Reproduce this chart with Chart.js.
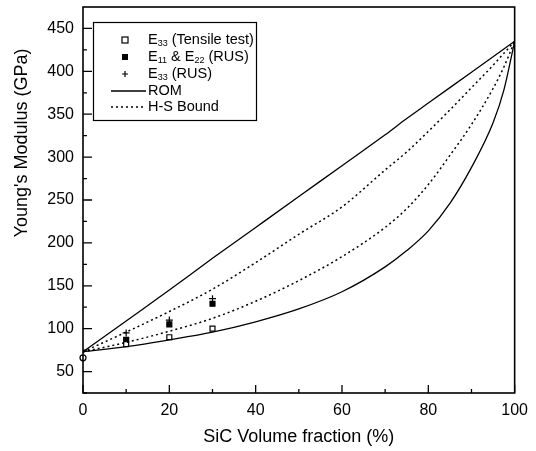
<!DOCTYPE html>
<html>
<head>
<meta charset="utf-8">
<title>Young's Modulus vs SiC Volume fraction</title>
<script src="https://cdn.jsdelivr.net/npm/chart.js@4.4.0/dist/chart.umd.min.js"></script>
<style>
    html, body { margin: 0; padding: 0; background: #ffffff; }
    #wrap { position: relative; width: 536px; height: 451px; }
</style>
</head>
<body>
<div id="wrap"><canvas id="modulusChart" width="536" height="451"></canvas></div>
<script>
// Bounds
const volFraction = [0, 10, 20, 30, 40, 50, 60, 70, 75, 80, 85, 90, 95, 97.5, 100];
const romUpper = [73, 109, 145, 182, 218, 254, 290, 326, 345, 363, 381, 399, 417, 426, 435];
const hsUpper  = [73, 96, 120, 146, 177, 210, 242, 285, 306, 330, 355, 381, 407, 421, 435];
const hsLower  = [73, 84, 97, 112, 132, 156, 184, 218, 240, 268, 302, 338, 380, 405, 435];
const romLower = [73, 79, 87, 96, 108, 123, 143, 172, 191, 214, 246, 288, 340, 378, 435];

// Measurements
const testFraction = [10, 20, 30];
const e33Tensile = [82, 90, 100];
const e11e22Rus = [87, 105, 129];
const e33Rus = [95, 110, 135];

// Matrix point
const matrixFraction = [0];
const matrixModulus = [66];

// Axes
const xTicks = [0, 20, 40, 60, 80, 100];
const yTicks = [50, 100, 150, 200, 250, 300, 350, 400, 450];

const FONT = '"Liberation Sans", Arial, sans-serif';

function toPoints(xs, ys) {
    return xs.map((x, i) => ({ x: x, y: ys[i] }));
}

// Legend entries (with subscripts)
const legendItems = [
    { kind: 'openSquare', parts: [['E'], ['33', true], [' (Tensile test)']] },
    { kind: 'filledSquare', parts: [['E'], ['11', true], [' & E'], ['22', true], [' (RUS)']] },
    { kind: 'plus', parts: [['E'], ['33', true], [' (RUS)']] },
    { kind: 'solid', parts: [['ROM']] },
    { kind: 'dotted', parts: [['H-S Bound']] }
];

function drawMarker(ctx, kind, x, y) {
    ctx.save();
    ctx.strokeStyle = '#000';
    ctx.fillStyle = '#000';
    ctx.lineWidth = 1.2;
    if (kind === 'openSquare') {
        ctx.fillStyle = '#fff';
        ctx.fillRect(x - 3, y - 3, 6, 6);
        ctx.strokeRect(x - 3, y - 3, 6, 6);
    } else if (kind === 'filledSquare') {
        ctx.fillRect(x - 3, y - 3, 6, 6);
    } else if (kind === 'plus') {
        ctx.beginPath();
        ctx.moveTo(x - 3, y); ctx.lineTo(x + 3, y);
        ctx.moveTo(x, y - 3); ctx.lineTo(x, y + 3);
        ctx.stroke();
    } else {
        ctx.lineWidth = kind === 'solid' ? 1.3 : 1.5;
        if (kind === 'dotted') ctx.setLineDash([2, 3]);
        ctx.beginPath();
        ctx.moveTo(x - 14, y); ctx.lineTo(x + 21, y);
        ctx.stroke();
    }
    ctx.restore();
}

function drawRichText(ctx, parts, x, y) {
    let cx = x;
    parts.forEach(p => {
        const sub = p[1] === true;
        ctx.font = (sub ? '9px ' : '14.5px ') + FONT;
        ctx.fillText(p[0], cx, sub ? y + 4 : y);
        cx += ctx.measureText(p[0]).width;
    });
}

// Frame, inward ticks, titles and legend
const decorPlugin = {
    id: 'decor',
    afterDraw(chart) {
        const ctx = chart.ctx;
        const area = chart.chartArea;
        const xs = chart.scales.x;
        const ys = chart.scales.y;

        ctx.save();
        ctx.strokeStyle = '#000';
        ctx.fillStyle = '#000';

        // frame
        ctx.lineWidth = 1.6;
        ctx.strokeRect(area.left, area.top, area.right - area.left, area.bottom - area.top);

        // x ticks (major + minor)
        ctx.lineWidth = 1.3;
        ctx.beginPath();
        xTicks.forEach((v, i) => {
            const px = xs.getPixelForValue(v);
            ctx.moveTo(px, area.bottom); ctx.lineTo(px, area.bottom - 8);
            if (i < xTicks.length - 1) {
                const mx = xs.getPixelForValue((v + xTicks[i + 1]) / 2);
                ctx.moveTo(mx, area.bottom); ctx.lineTo(mx, area.bottom - 4);
            }
        });
        // y ticks (major + minor)
        yTicks.forEach((v, i) => {
            const py = ys.getPixelForValue(v);
            ctx.moveTo(area.left, py); ctx.lineTo(area.left + 9, py);
            const mv = i === 0 ? v - 25 : (v + yTicks[i - 1]) / 2;
            const my = ys.getPixelForValue(mv);
            ctx.moveTo(area.left, my); ctx.lineTo(area.left + 4, my);
        });
        ctx.stroke();

        // axis titles
        ctx.font = '18px ' + FONT;
        ctx.textAlign = 'center';
        ctx.textBaseline = 'middle';
        ctx.fillText('SiC Volume fraction (%)', (area.left + area.right) / 2, 437);
        ctx.save();
        ctx.translate(22, 143);
        ctx.rotate(-Math.PI / 2);
        ctx.fillText("Young's Modulus (GPa)", 0, 0);
        ctx.restore();

        // legend box
        ctx.lineWidth = 1.2;
        ctx.fillStyle = '#fff';
        ctx.fillRect(93.5, 22.5, 163, 98);
        ctx.strokeRect(93.5, 22.5, 163, 98);
        ctx.fillStyle = '#000';
        ctx.textAlign = 'left';
        ctx.textBaseline = 'middle';
        const rowY = [40, 57, 74, 91, 107];
        legendItems.forEach((item, i) => {
            drawMarker(ctx, item.kind, 125, rowY[i]);
            drawRichText(ctx, item.parts, 148, rowY[i]);
        });

        ctx.restore();
    }
};

function lineSet(label, ys, dashed) {
    return {
        label: label,
        data: toPoints(volFraction, ys),
        showLine: true,
        borderColor: '#000',
        borderWidth: dashed ? 1.5 : 1.3,
        borderDash: dashed ? [2, 3] : [],
        pointRadius: 0,
        cubicInterpolationMode: 'monotone',
        fill: false
    };
}

function pointSet(label, xs, ys, style, filled, radius) {
    return {
        label: label,
        data: toPoints(xs, ys),
        showLine: false,
        pointStyle: style,
        pointRadius: radius,
        pointBorderColor: '#000',
        pointBackgroundColor: filled ? '#000' : '#fff',
        pointBorderWidth: 1.2,
        clip: false
    };
}

function initChart() {
    const ctx = document.getElementById('modulusChart');
    new Chart(ctx, {
        type: 'scatter',
        data: {
            datasets: [
                lineSet('ROM upper', romUpper, false),
                lineSet('H-S upper', hsUpper, true),
                lineSet('H-S lower', hsLower, true),
                lineSet('ROM lower', romLower, false),
                pointSet('E33 (Tensile test)', testFraction, e33Tensile, 'rect', false, 3.5),
                pointSet('E11 & E22 (RUS)', testFraction, e11e22Rus, 'rect', true, 3.5),
                pointSet('E33 (RUS)', testFraction, e33Rus, 'cross', false, 3.5),
                pointSet('Matrix', matrixFraction, matrixModulus, 'circle', false, 3)
            ]
        },
        options: {
            responsive: false,
            devicePixelRatio: 1,
            animation: false,
            layout: { padding: { left: 0, right: 13, top: 7, bottom: 0 } },
            plugins: {
                legend: { display: false },
                tooltip: { enabled: false }
            },
            scales: {
                x: {
                    type: 'linear',
                    min: 0,
                    max: 100,
                    afterBuildTicks: s => { s.ticks = xTicks.map(v => ({ value: v })); },
                    afterFit: s => { s.height = 58; },
                    grid: { display: false, drawTicks: false },
                    border: { display: false },
                    ticks: { color: '#000', font: { family: FONT, size: 16 }, padding: 8, maxRotation: 0 }
                },
                y: {
                    type: 'linear',
                    min: 25,
                    max: 475,
                    afterBuildTicks: s => { s.ticks = yTicks.map(v => ({ value: v })); },
                    afterFit: s => { s.width = 83; s.paddingTop = 0; s.paddingBottom = 0; },
                    grid: { display: false, drawTicks: false },
                    border: { display: false },
                    ticks: { color: '#000', font: { family: FONT, size: 16 }, padding: 9 }
                }
            }
        },
        plugins: [decorPlugin]
    });
}

document.addEventListener('DOMContentLoaded', initChart);
</script>
</body>
</html>
